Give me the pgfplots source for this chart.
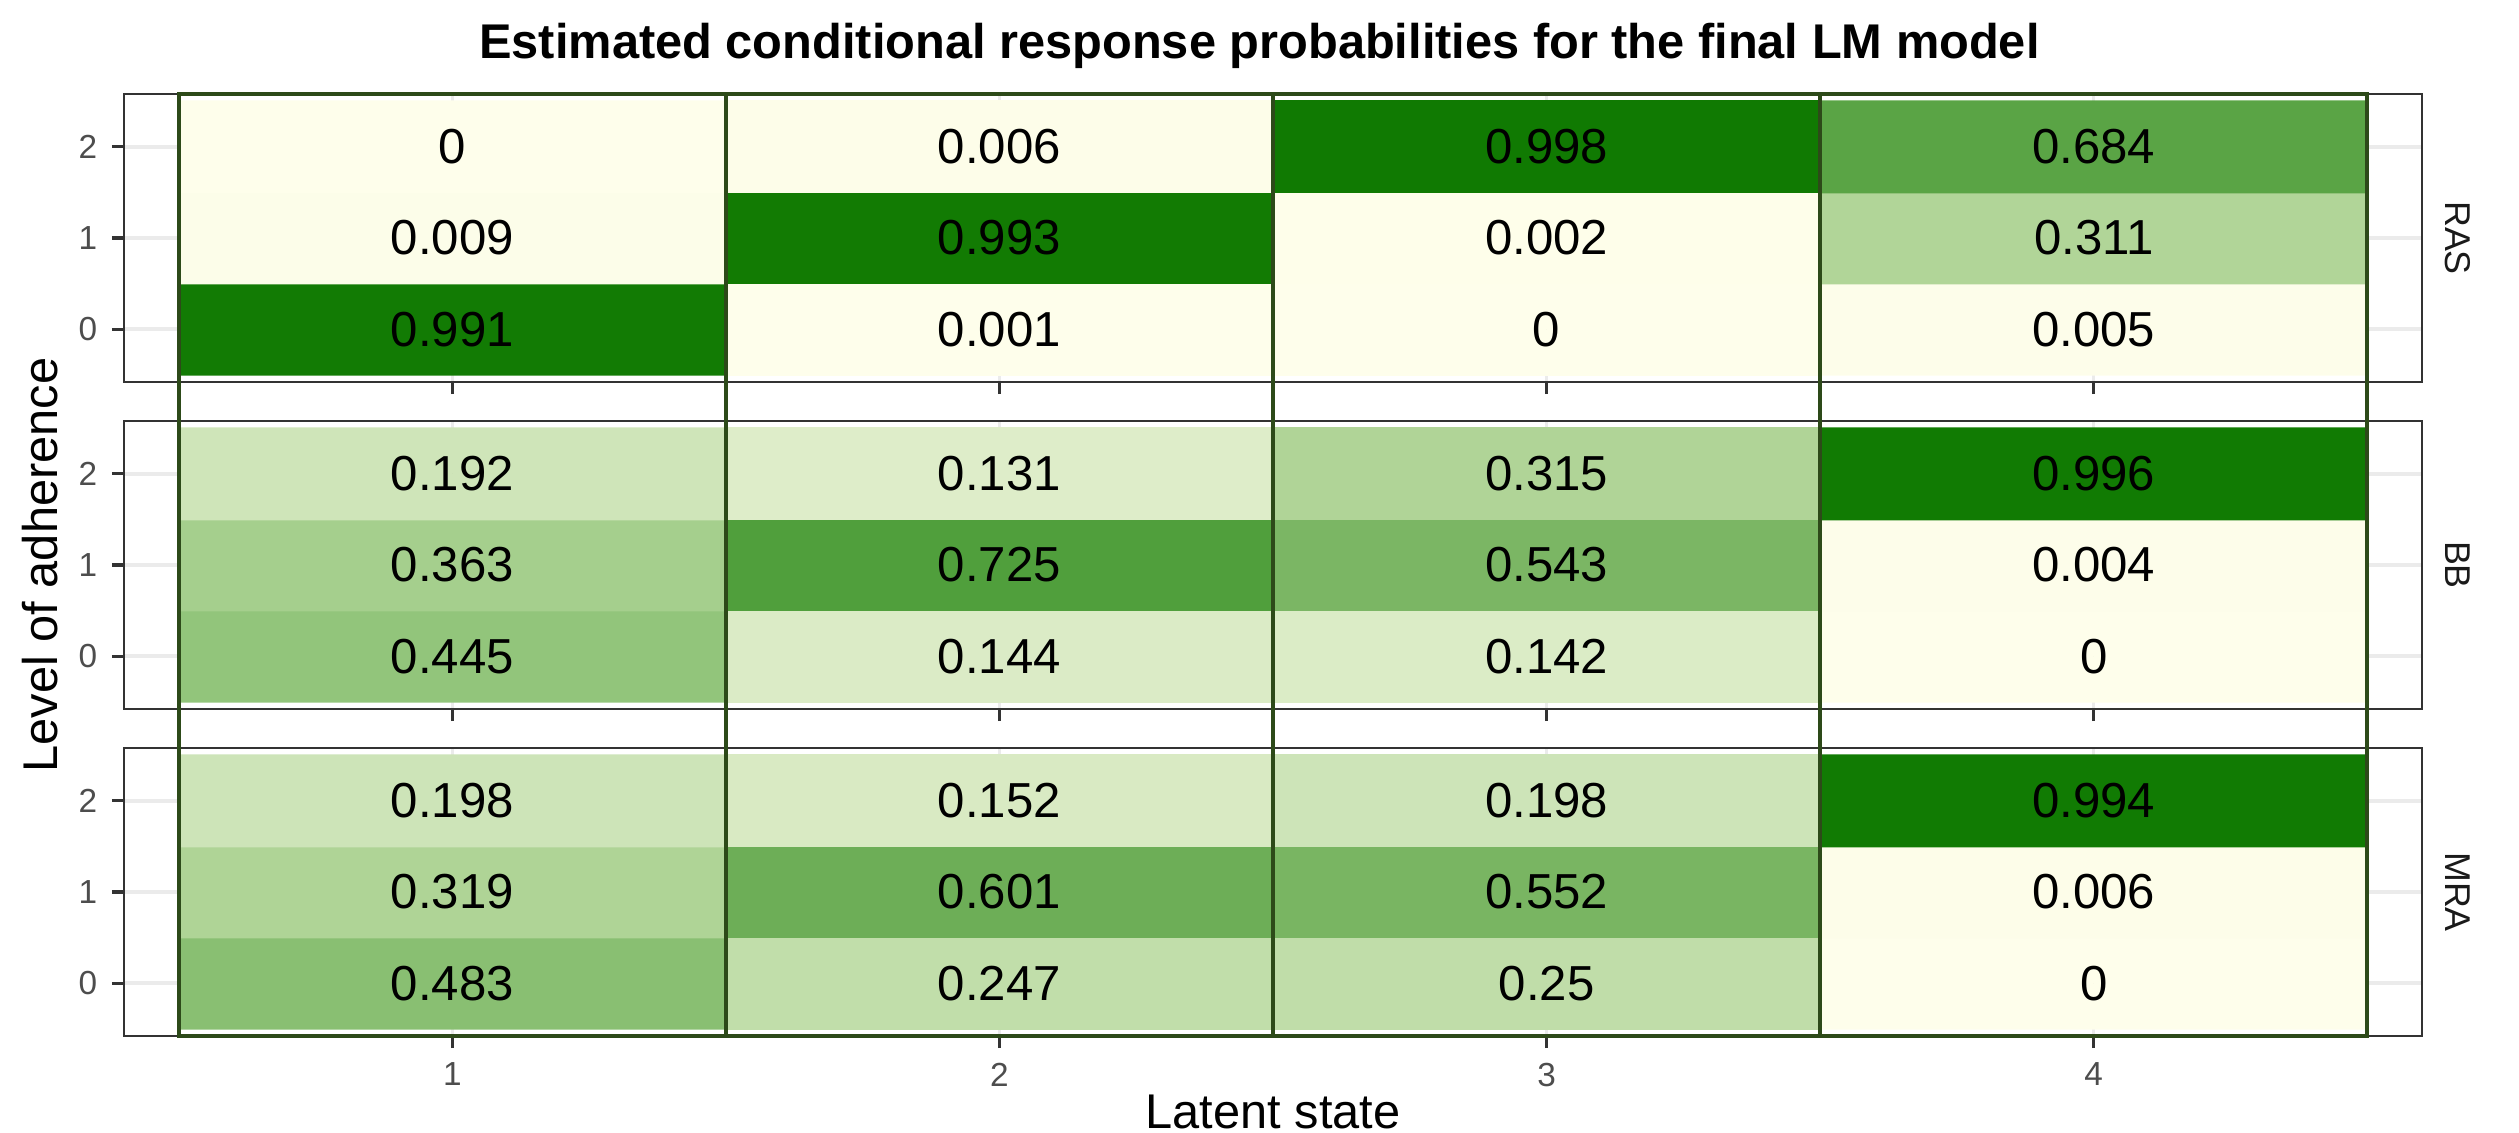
\documentclass[border=0pt]{standalone}
\usepackage{fontspec}
\setmainfont{Liberation Sans}
\usepackage{pgfplots}
\usepackage{pgfplotstable}
\pgfplotsset{compat=1.18}
\definecolor{olivebox}{HTML}{2D4A19}
\definecolor{gray20}{HTML}{333333}
\definecolor{gray30}{HTML}{4D4D4D}
\definecolor{gray10}{HTML}{1A1A1A}
\definecolor{gridc}{HTML}{EBEBEB}

% conditional response probabilities, x = latent state, y = level of adherence
\pgfplotstableread{
x y p
1 0 0.991
2 0 0.001
3 0 0
4 0 0.005
1 1 0.009
2 1 0.993
3 1 0.002
4 1 0.311
1 2 0
2 2 0.006
3 2 0.998
4 2 0.684
}\ras
\pgfplotstableread{
x y p
1 0 0.445
2 0 0.144
3 0 0.142
4 0 0
1 1 0.363
2 1 0.725
3 1 0.543
4 1 0.004
1 2 0.192
2 2 0.131
3 2 0.315
4 2 0.996
}\bb
\pgfplotstableread{
x y p
1 0 0.483
2 0 0.247
3 0 0.25
4 0 0
1 1 0.319
2 1 0.601
3 1 0.552
4 1 0.006
1 2 0.198
2 2 0.152
3 2 0.198
4 2 0.994
}\mra

\tikzset{
  strip/.style={rotate=-90, anchor=center,
    font=\fontsize{8.6}{10}\selectfont, text=gray10},
  colbox/.style={olivebox, line width=1pt},
}
\pgfplotsset{
  colormap={adh}{rgb255(0pt)=(254,254,235) rgb255(20pt)=(205,228,183)
    rgb255(31pt)=(177,213,152) rgb255(45pt)=(145,196,122)
    rgb255(60pt)=(109,174,87) rgb255(68pt)=(91,165,70)
    rgb255(100pt)=(16,122,2)},
  panel/.style={
    scale only axis, width=551.52pt, height=69.12pt, anchor=north west,
    xmin=0.4, xmax=4.6, ymin=-0.58, ymax=2.58,
    xtick={1,2,3,4}, ytick={0,1,2},
    xtick pos=lower, ytick pos=left, tick align=outside,
    major tick length=2.9pt,
    tick style={gray20, line width=0.75pt},
    axis line style={gray20, line width=0.6pt},
    grid=major, major grid style={gridc, line width=0.8pt},
    tick label style={font=\fontsize{8}{9}\selectfont, text=gray30},
    /pgf/number format/assume math mode=true,
    colormap name=adh, point meta min=0, point meta max=1,
    clip=false,
  },
  tiles/.style={matrix plot*, mesh/cols=4, point meta=explicit},
  vals/.style={only marks, mark=*, mark size=0pt,
    mark options={draw=none, fill=none},
    nodes near coords, point meta=explicit symbolic,
    every node near coord/.style={anchor=center,
      font=\fontsize{11.8}{13}\selectfont, text=black}},
}

\begin{document}
\begin{tikzpicture}
\useasboundingbox (0,0) rectangle (604.56pt,-271.92pt);

\begin{axis}[panel, at={(29.76pt,-22.56pt)}, xticklabels={}]
  \addplot[tiles] table[meta=p] {\ras};
  \addplot[vals] table[meta=p] {\ras};
  \node[strip] at (rel axis cs:1.0157,0.5) {RAS};
  \node[anchor=base, font=\fontsize{11.7}{13}\selectfont\bfseries]
    at (rel axis cs:0.4941,1.1215)
    {Estimated conditional response probabilities for the final LM model};
\end{axis}

\begin{axis}[panel, at={(29.76pt,-101.04pt)}, xticklabels={}]
  \addplot[tiles] table[meta=p] {\bb};
  \addplot[vals] table[meta=p] {\bb};
  \node[strip] at (rel axis cs:1.0157,0.5) {BB};
  \node[rotate=90, anchor=center, font=\fontsize{11.7}{13}\selectfont]
    at (rel axis cs:-0.0366,0.5) {Level of adherence};
\end{axis}

\begin{axis}[panel, at={(29.76pt,-179.52pt)}]
  \addplot[tiles] table[meta=p] {\mra};
  \addplot[vals] table[meta=p] {\mra};
  \node[strip] at (rel axis cs:1.0157,0.5) {MRA};
  \node[anchor=base, font=\fontsize{11.7}{13}\selectfont]
    at (rel axis cs:0.5,-0.3229) {Latent state};
  % column outlines spanning the three panels
  \draw[colbox] (axis cs:0.5,-0.58) rectangle (axis cs:1.5,9.756);
  \draw[colbox] (axis cs:1.5,-0.58) rectangle (axis cs:2.5,9.756);
  \draw[colbox] (axis cs:2.5,-0.58) rectangle (axis cs:3.5,9.756);
  \draw[colbox] (axis cs:3.5,-0.58) rectangle (axis cs:4.5,9.756);
\end{axis}
\end{tikzpicture}
\end{document}
